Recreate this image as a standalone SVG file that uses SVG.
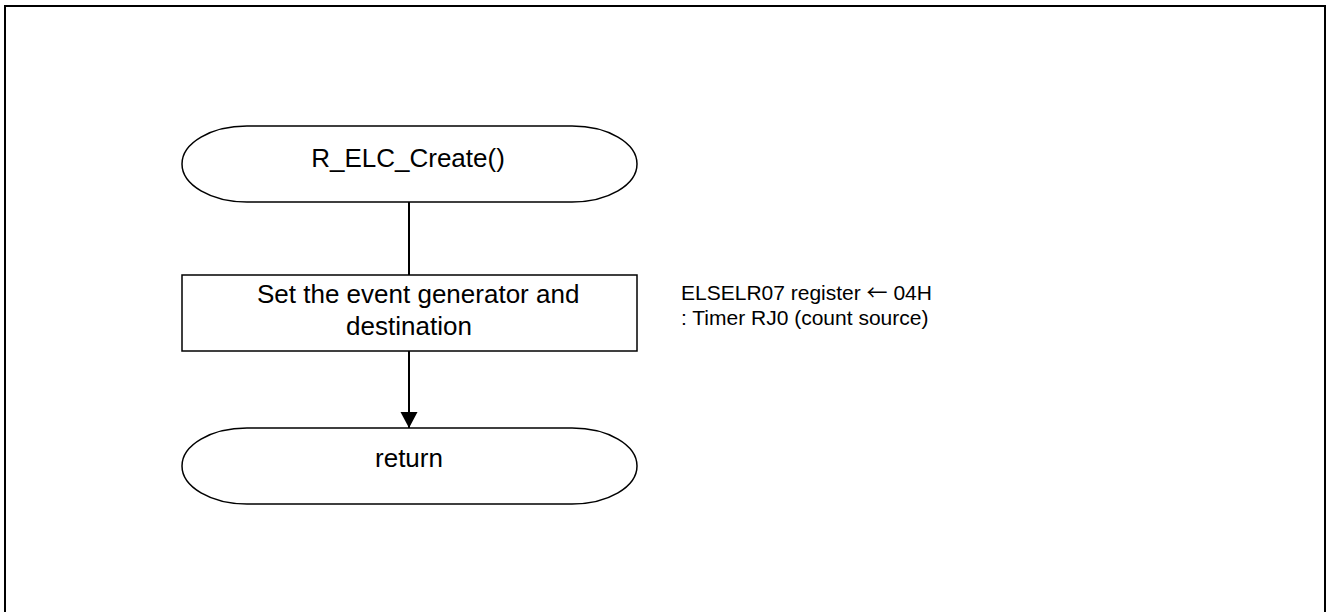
<svg xmlns="http://www.w3.org/2000/svg" width="1328" height="612" viewBox="0 0 1328 612">
  <style>
    .shape { fill: #ffffff; stroke: #000000; stroke-width: 1.5; }
    .conn { fill: none; stroke: #000000; stroke-width: 2; }
    .lbl { font-family: "Liberation Sans", Arial, sans-serif; font-size: 26px; fill: #000000; }
    .note { font-family: "Liberation Sans", Arial, "DejaVu Sans", sans-serif; font-size: 21px; fill: #000000; }
    .arr { font-family: "Noto Sans CJK JP", "DejaVu Sans", sans-serif; }
  </style>
  <defs>
    <marker id="arrow" markerUnits="userSpaceOnUse" markerWidth="18" markerHeight="18" refX="16" refY="8.5" orient="auto">
      <path d="M0,0 L16,8.5 L0,17 Z" fill="#000000"/>
    </marker>
  </defs>
  <rect x="5" y="6" width="1320" height="620" fill="#ffffff" stroke="#000000" stroke-width="2"/>
  <g id="connectors">
    <line class="conn" x1="409" y1="202" x2="409" y2="275"/>
    <line class="conn" x1="409" y1="351" x2="409" y2="428" marker-end="url(#arrow)"/>
  </g>
  <g id="start">
    <rect class="shape" x="182" y="126" width="455" height="76" rx="65" ry="38"/>
    <text class="lbl" x="408" y="167" text-anchor="middle">R_ELC_Create()</text>
  </g>
  <g id="process">
    <rect class="shape" x="182" y="275" width="455" height="76"/>
    <text class="lbl" x="257" y="303">Set the event generator and</text>
    <text class="lbl" x="409" y="335" text-anchor="middle">destination</text>
  </g>
  <g id="end">
    <rect class="shape" x="182" y="428" width="455" height="76" rx="65" ry="38"/>
    <text class="lbl" x="409" y="467" text-anchor="middle">return</text>
  </g>
  <g id="note">
    <text class="note" x="681" y="300">ELSELR07 register <tspan class="arr">←</tspan> 04H</text>
    <text class="note" x="681" y="325">: Timer RJ0 (count source)</text>
  </g>
</svg>
